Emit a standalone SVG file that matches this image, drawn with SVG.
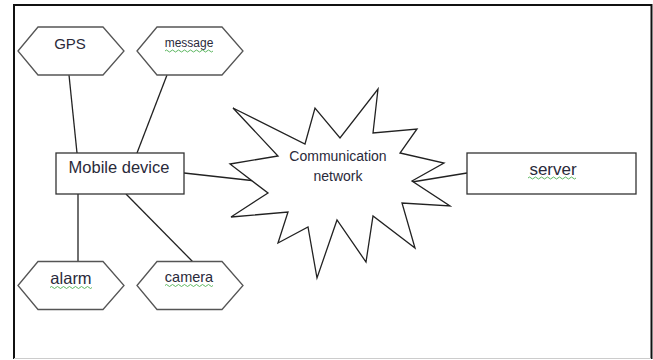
<svg xmlns="http://www.w3.org/2000/svg" width="653" height="360" viewBox="0 0 653 360">
<defs>
<style>
.hex{fill:#fff;stroke:#555;stroke-width:1.3}
.box{fill:#fff;stroke:#333;stroke-width:1.3}
.star{fill:#fff;stroke:#222;stroke-width:1.3;stroke-linejoin:miter}
.edge{stroke:#222;stroke-width:1.3;fill:none}
.t{font-family:"Liberation Sans",Arial,sans-serif;fill:#2a2a3a;text-anchor:middle}
.sq{fill:none;stroke:#4caf50;stroke-width:0.9}
</style>
<polygon id="hexshape" points="0,0 20,-24 85,-24 106,0 85,24 20,24"/>
</defs>
<rect width="653" height="360" fill="#fff"/>
<path d="M14,359 V5 H651.5 V359" fill="none" stroke="#111" stroke-width="2"/>
<line x1="14" y1="358.5" x2="651" y2="358.5" stroke="#ccc" stroke-width="1"/>
<g id="connectors">
<line class="edge" x1="69" y1="75" x2="77" y2="153"/>
<line class="edge" x1="167" y1="75" x2="137" y2="153"/>
<line class="edge" x1="78" y1="194" x2="78" y2="262"/>
<line class="edge" x1="126" y1="194" x2="193" y2="262"/>
<line class="edge" x1="184" y1="173" x2="256" y2="181"/>
<line class="edge" x1="412" y1="182" x2="467" y2="173"/>
</g>
<g id="gps">
<use href="#hexshape" class="hex" x="18" y="51"/>
<text class="t" x="70" y="49" font-size="15">GPS</text>
</g>
<g id="message">
<use href="#hexshape" class="hex" x="137" y="51"/>
<text class="t" x="189" y="47" font-size="12">message</text>
<path class="sq" d="M165,51 q1.5,-2 3,0 t3,0 t3,0 t3,0 t3,0 t3,0 t3,0 t3,0 t3,0 t3,0 t3,0 t3,0 t3,0 t3,0 t3,0 t3,0"/>
</g>
<g id="alarm">
<use href="#hexshape" class="hex" x="18" y="285.5"/>
<text class="t" x="71" y="284" font-size="16.5">alarm</text>
<path class="sq" d="M50,287.5 q1.5,-2 3,0 t3,0 t3,0 t3,0 t3,0 t3,0 t3,0 t3,0 t3,0 t3,0 t3,0 t3,0 t3,0 t3,0"/>
</g>
<g id="camera">
<use href="#hexshape" class="hex" x="137" y="285.5"/>
<text class="t" x="189" y="282" font-size="14.5">camera</text>
<path class="sq" d="M165,285.5 q1.5,-2 3,0 t3,0 t3,0 t3,0 t3,0 t3,0 t3,0 t3,0 t3,0 t3,0 t3,0 t3,0 t3,0 t3,0 t3,0 t3,0"/>
</g>
<g id="mobile">
<rect class="box" x="56" y="153" width="128" height="41"/>
<text class="t" x="119" y="173" font-size="16.5">Mobile device</text>
</g>
<g id="network">
<polygon class="star" points="233,108 305,144 315,108 340,138 378,89 373,133 417,129 400,153 444,163 412,181 450,206 402,203 415,248 373,216 366,262 337,220 317,278 308,227 278,243 288,212 231,217 268,193 230,164 278,156"/>
<text class="t" x="338" y="161" font-size="14">Communication</text>
<text class="t" x="338" y="181" font-size="14">network</text>
</g>
<g id="server">
<rect class="box" x="467" y="153" width="169" height="41"/>
<text class="t" x="553" y="175" font-size="17">server</text>
<path class="sq" d="M528,178 q1.5,-2 3,0 t3,0 t3,0 t3,0 t3,0 t3,0 t3,0 t3,0 t3,0 t3,0 t3,0 t3,0 t3,0 t3,0 t3,0 t3,0"/>
</g>
</svg>
